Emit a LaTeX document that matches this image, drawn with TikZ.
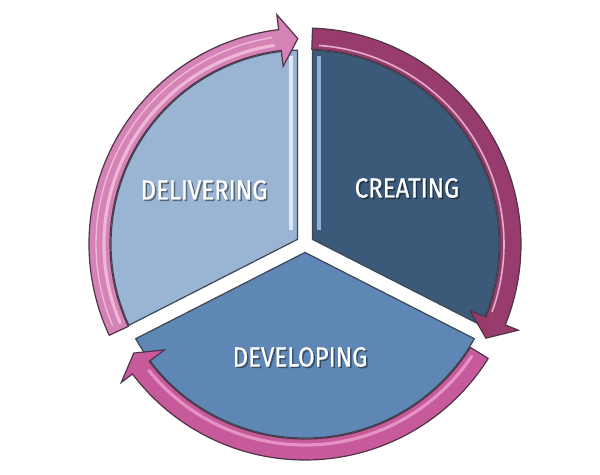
\documentclass[tikz,border=0pt]{standalone}
\usepackage{fontspec}
\newfontfamily\lab[FakeStretch=0.87,FakeBold=0.6]{Fira Sans}
\definecolor{deliv}{HTML}{9AB4D3}
\definecolor{creat}{HTML}{3B5A7A}
\definecolor{devel}{HTML}{5E87B5}
\definecolor{pinkL}{HTML}{D582B6}
\definecolor{pinkLhi}{HTML}{EDB8D6}
\definecolor{plum}{HTML}{983C6E}
\definecolor{plumhi}{HTML}{E2AECB}
\definecolor{pinkM}{HTML}{C65A9B}
\definecolor{pinkMhi}{HTML}{E592C3}
\definecolor{edge}{HTML}{3C4654}
\definecolor{ringedge}{HTML}{4E3446}
\definecolor{bevelL}{HTML}{DDE9F5}
\definecolor{bevelC}{HTML}{8EB1D8}
\begin{document}
\begin{tikzpicture}[x=0.5pt,y=0.5pt,
  sector/.style={draw=edge,line width=0.6pt,line join=round},
  ring/.style={draw=ringedge,line width=0.6pt,line join=miter},
  hilite/.style={line width=1.6pt,line cap=round},
  labeltext/.style={text=white,font=\lab\fontsize{13.8}{16}\selectfont,inner sep=0pt},
  shadowtext/.style={text=black,opacity=0.4,font=\lab\fontsize{13.8}{16}\selectfont,inner sep=0pt}]
\useasboundingbox (0,0) rectangle (600,475);
\fill[white] (0,0) rectangle (600,475);
\begin{scope}[shift={(305,231)}]
  % sectors
  \filldraw[sector,fill=creat] (31.5:8.79) coordinate (ca) -- (-24.78:194) arc[start angle=-24.78,end angle=87.78,radius=194] -- cycle;
  \filldraw[sector,fill=deliv] (148.5:8.79) coordinate (da) -- (92.22:194) arc[start angle=92.22,end angle=204.78,radius=194] -- cycle;
  \filldraw[sector,fill=devel] (270:8.42) coordinate (va) -- (209.22:194) arc[start angle=209.22,end angle=330.78,radius=194] -- cycle;
  % bevel stripes
  \coordinate (b1) at (-14,188);
  \coordinate (b2) at (-14,14);
  \draw[line width=2pt,color=bevelL] (b1) -- (b2);
  \coordinate (c1) at (14,188);
  \coordinate (c2) at (14,14);
  \draw[line width=1.6pt,color=bevelC] (c1) -- (c2);
  % left arrow (delivering -> creating)
  \filldraw[ring,fill=pinkL] (205:216) arc[start angle=205,end angle=97,radius=216] -- (97:231) -- (92:205.5) -- (97:179) -- (97:195) arc[start angle=97,end angle=205,radius=195] -- cycle;
  \draw[hilite,color=pinkLhi] (203:201) arc[start angle=203,end angle=99,radius=201];
  \draw[line width=0.7pt,color=pinkLhi] (203:209) arc[start angle=203,end angle=99,radius=209];
  % right arrow (creating -> developing)
  \filldraw[ring,fill=plum] (88:216) arc[start angle=88,end angle=-22,radius=216] -- (-22:230) -- (-27.5:204) -- (-22:178) -- (-22:195) arc[start angle=-22,end angle=88,radius=195] -- cycle;
  \draw[line width=0.8pt,color=plumhi] (86:199) arc[start angle=86,end angle=-20,radius=199];
  % bottom arrow (developing -> delivering)
  \filldraw[ring,fill=pinkM] (-32:216) arc[start angle=-32,end angle=-143,radius=216] -- (-143:230) -- (-147.5:203) -- (-143:176) -- (-143:195) arc[start angle=-143,end angle=-32,radius=195] -- cycle;
  \draw[hilite,color=pinkMhi] (-34:201) arc[start angle=-34,end angle=-141,radius=201];
\end{scope}
% labels
\node[shadowtext] (sd) at (205.5,283.5) {DELIVERING};
\node[labeltext] (ld) at (204,285) {DELIVERING};
\node[shadowtext] (sc) at (408.5,285.5) {CREATING};
\node[labeltext] (lc) at (407,287) {CREATING};
\node[shadowtext] (sv) at (301.5,116.5) {DEVELOPING};
\node[labeltext] (lv) at (300,118) {DEVELOPING};
\end{tikzpicture}
\end{document}
